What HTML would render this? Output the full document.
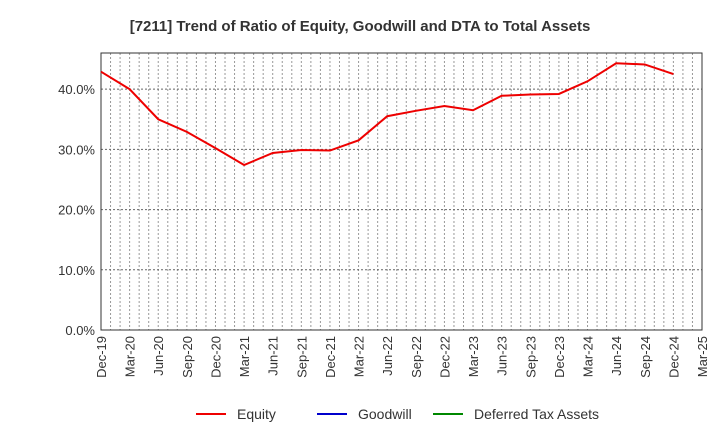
<!DOCTYPE html>
<html><head><meta charset="utf-8"><style>
body{margin:0;background:#fff;font-family:"Liberation Sans",sans-serif}
</style></head><body>
<svg id="c" width="720" height="440" xmlns="http://www.w3.org/2000/svg">
<text x="360" y="31" text-anchor="middle" font-size="15" font-weight="bold" fill="#333">[7211]  Trend of Ratio of Equity, Goodwill and DTA to Total Assets</text>
<g id="grid"></g><g id="axes"></g><g id="series"></g>
<g>
<line x1="196" y1="414" x2="226" y2="414" stroke="#e00" stroke-width="2"/><text x="237" y="419" font-size="14" fill="#333">Equity</text>
<line x1="317" y1="414" x2="347" y2="414" stroke="#00c" stroke-width="2"/><text x="358" y="419" font-size="14" fill="#333">Goodwill</text>
<line x1="433" y1="414" x2="463" y2="414" stroke="#080" stroke-width="2"/><text x="474" y="419" font-size="14" fill="#333">Deferred Tax Assets</text>
</g>
</svg>
<script>
const categories=["Dec-19","Mar-20","Jun-20","Sep-20","Dec-20","Mar-21","Jun-21","Sep-21","Dec-21","Mar-22","Jun-22","Sep-22","Dec-22","Mar-23","Jun-23","Sep-23","Dec-23","Mar-24","Jun-24","Sep-24","Dec-24","Mar-25"];
const equity=[42.9,40.0,35.0,32.9,30.2,27.4,29.4,29.9,29.8,31.5,35.5,36.4,37.2,36.5,38.9,39.1,39.2,41.3,44.3,44.1,42.5];
const yTicks=[0,10,20,30,40];
const yTickLabels=["0.0%","10.0%","20.0%","30.0%","40.0%"];
const X0=101,X1=702,Y0=330,Y1=53,YMAX=46;
const ns="http://www.w3.org/2000/svg";
const xs=i=>X0+(X1-X0)*i/(categories.length-1);
const ys=v=>Y0-(Y0-Y1)*v/YMAX;
function mk(t,a,p){const e=document.createElementNS(ns,t);for(const k in a)e.setAttribute(k,a[k]);document.getElementById(p).appendChild(e);return e;}
const n=(categories.length-1)*3;
for(let m=1;m<n;m++){const x=X0+(X1-X0)*m/n;
const l=mk("line",{x1:x,x2:x,y1:Y1,y2:Y0,stroke:"#999","stroke-dasharray":"2,2"},"grid");

}
yTicks.forEach((v,i)=>{const y=ys(v);
if(v>0){const g=mk("line",{x1:X0,x2:X1,y1:y,y2:y,stroke:"#666","stroke-dasharray":"2,2"},"grid");

}
const t=mk("text",{x:X0-6,y:y+5,"text-anchor":"end","font-size":"13",fill:"#333"},"axes");t.textContent=yTickLabels[i];

});
categories.forEach((c,i)=>{const x=xs(i);
const t=mk("text",{transform:`translate(${x+5},${Y0+6}) rotate(-90)`,"text-anchor":"end","font-size":"13",fill:"#333"},"axes");t.textContent=c;

});
const fr=mk("rect",{x:X0,y:Y1,width:X1-X0,height:Y0-Y1,fill:"none",stroke:"#333"},"axes");


const pl=mk("polyline",{points:equity.map((v,i)=>xs(i)+","+ys(v)).join(" "),fill:"none",stroke:"#e00","stroke-width":"2"},"series");


</script>
</body></html>
